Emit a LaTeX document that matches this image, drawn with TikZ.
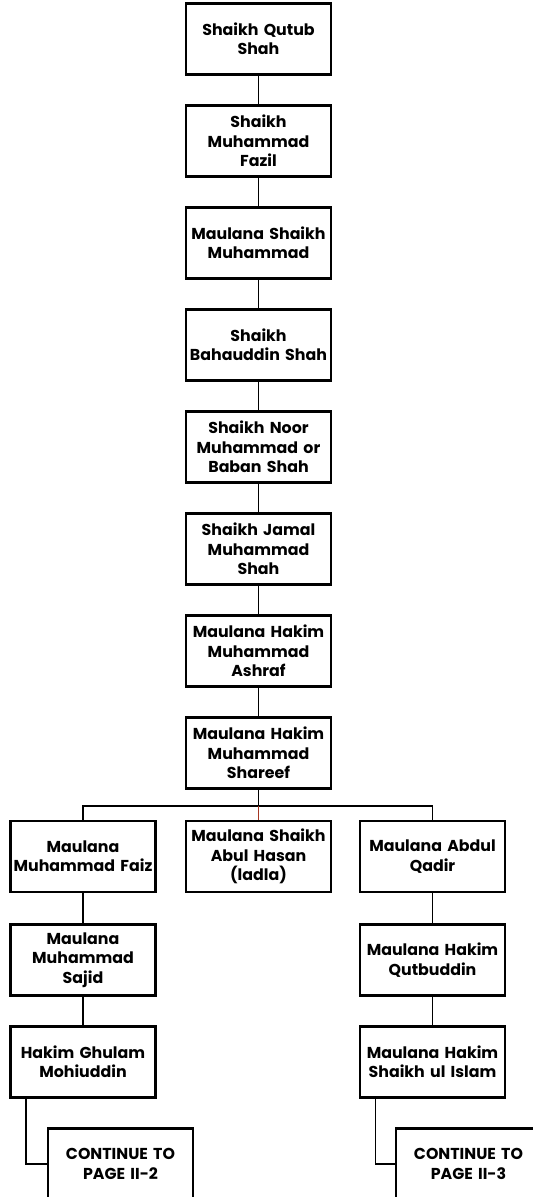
\documentclass[tikz,border=0pt]{standalone}
\usepackage{fontspec}
\setmainfont{Poppins}
\definecolor{linkred}{RGB}{165,55,35}
\tikzset{
  person/.style={draw, line width=1.3pt, minimum width=2.9cm, minimum height=1.42cm,
    text width=2.8cm, align=center, inner sep=1pt, font=\fontsize{9}{11}\selectfont\bfseries},
  link/.style={line width=0.8pt}
}

\begin{document}
\begin{tikzpicture}[x=0.02cm, y=-0.02cm]
  \useasboundingbox (0,0) rectangle (533,1197);
  \clip (0,0) rectangle (533,1197);
  \node[person] (qutub) at (258.5,39) {Shaikh Qutub\\Shah};
  \node[person] (fazil) at (258.5,141) {Shaikh\\Muhammad\\Fazil};
  \node[person] (smuhammad) at (258.5,243) {Maulana Shaikh\\Muhammad};
  \node[person] (bahauddin) at (258.5,345) {Shaikh\\Bahauddin Shah};
  \node[person] (baban) at (258.5,447) {Shaikh Noor\\Muhammad or\\Baban Shah};
  \node[person] (jamal) at (258.5,549) {Shaikh Jamal\\Muhammad\\Shah};
  \node[person] (ashraf) at (258.5,651) {Maulana Hakim\\Muhammad\\Ashraf};
  \node[person] (shareef) at (258.5,753) {Maulana Hakim\\Muhammad\\Shareef};
  \node[person] (faiz) at (83,856.5) {Maulana\\Muhammad Faiz};
  \node[person] (abulhasan) at (258.5,856.5) {Maulana Shaikh\\Abul Hasan\\(ladla)};
  \node[person] (qadir) at (432.5,856.5) {Maulana Abdul\\Qadir};
  \node[person] (sajid) at (83,960) {Maulana\\Muhammad\\Sajid};
  \node[person] (qutbuddin) at (432.5,960) {Maulana Hakim\\Qutbuddin};
  \node[person] (mohiuddin) at (83,1062) {Hakim Ghulam\\Mohiuddin};
  \node[person] (islam) at (432.5,1062) {Maulana Hakim\\Shaikh ul Islam};
  \node[person] (pageA) at (120.5,1164) {CONTINUE TO\\PAGE II-2};
  \node[person] (pageB) at (468.5,1164) {CONTINUE TO\\PAGE II-3};
  \coordinate (bus) at (258.5,806);

  \foreach \a/\b in {qutub/fazil, fazil/smuhammad, smuhammad/bahauddin, bahauddin/baban,
    baban/jamal, jamal/ashraf, ashraf/shareef, faiz/sajid, sajid/mohiuddin,
    qadir/qutbuddin, qutbuddin/islam}
    \draw[link] (\a) -- (\b);
  \draw[link] (shareef) -- (bus);
  \draw[link] (faiz.north) |- (bus) -| (qadir.north);
  \draw[link, linkred] (bus) -- (abulhasan.north);
  \draw[link] ([xshift=0.33cm]mohiuddin.south west) |- (pageA.west);
  \draw[link] ([xshift=0.33cm]islam.south west) |- (pageB.west);
\end{tikzpicture}
\end{document}
